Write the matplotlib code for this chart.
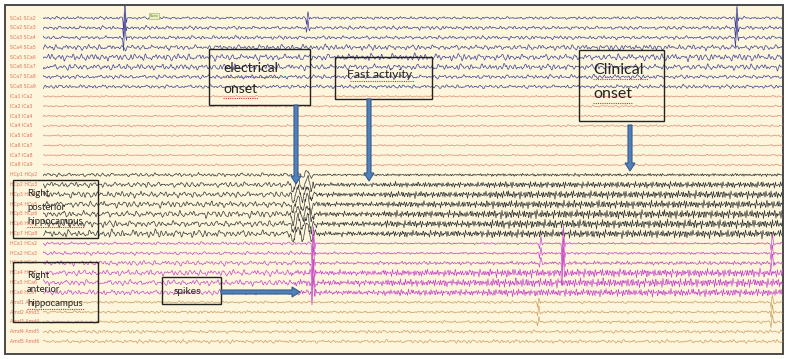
import numpy as np
import matplotlib.pyplot as plt
from matplotlib.patches import Rectangle, FancyArrow


FS = 74
DURATION = 20.0

GROUP_NAMES = ['SCa', 'ICa', 'HCp', 'HCa', 'Amd']
GROUP_SIZES = [8, 8, 7, 6, 5]
GROUP_COLORS = ['#3d4097', '#df9078', '#383838', '#c64ac8', '#cc9f62']

# segments: background | electrical onset | early fast | fast | late fast
SEGMENT_EDGES = [0.0, 6.7, 7.4, 9.2, 12.0, 20.0]
SLOW_AMP = [
    [0.22, 0.22, 0.22, 0.22, 0.22],
    [0.10, 0.10, 0.10, 0.10, 0.10],
    [0.30, 0.30, 0.11, 0.11, 0.11],
    [0.24, 0.24, 0.13, 0.13, 0.13],
    [0.13, 0.13, 0.13, 0.13, 0.13],
]
FAST_AMP = [0.02, 0.18, 0.20, 0.30, 0.38]

SLOW_GAIN = [0.6, 0.8, 0.8, 1.2, 1.5, 1.3, 0.9, 0.8,
             0.8, 1.0, 0.9, 1.0, 0.8, 0.9, 0.8, 0.9,
             0.6, 0.9, 1.0, 1.0, 1.1, 1.1, 1.2,
             0.6, 0.7, 1.0, 1.2, 1.2, 1.1,
             0.9, 1.0, 1.0, 1.2, 1.3]
FAST_GAIN = [0, 0, 0, 0, 0, 0, 0, 0,
             0, 0, 0, 0, 0, 0, 0, 0,
             0.3, 0.8, 1.0, 1.0, 1.1, 1.1, 1.0,
             0.1, 0.15, 0.3, 1.0, 1.1, 0.9,
             0, 0, 0, 0, 0]

# hand-drawn wave shapes
SLOW_WAVE = [0.0, 0.35, 0.7, 0.85, 0.6, 0.2, -0.25, -0.6, -0.8, -0.55,
             -0.1, 0.3, 0.5, 0.35, 0.05, -0.3, -0.5, -0.35, 0.0, 0.45,
             0.8, 0.65, 0.25, -0.2, -0.65, -0.9, -0.7, -0.3, 0.0]
SLOW_WAVE2 = [0.1, 0.3, 0.6, 0.9, 1.0, 0.8, 0.4, 0.0, -0.2, -0.1, 0.2,
              0.3, 0.1, -0.3, -0.7, -0.9, -1.0, -0.8, -0.5, -0.3, -0.4,
              -0.6, -0.5, -0.2, 0.2, 0.5, 0.6, 0.4, 0.1, -0.1, -0.2, 0.0,
              0.3, 0.5, 0.4, 0.0, -0.4, -0.6, -0.5, -0.3, -0.1, 0.0, 0.05]
MID_WAVE = [0.0, 0.6, 0.9, 0.4, -0.3, -0.8, -0.6, 0.1, 0.5, 0.2, -0.3]
FAST_WAVE = [0.0, 0.9, 0.2, -0.8, -0.4]
FAST_WAVE2 = [0.3, 1.0, -0.2, -0.9, 0.4, 0.7, -0.6]
HF_WAVE = [0.5, -0.6, 0.1]

ONSET_TIME = 6.68
ONSET_WAVE = [0, 0.2, 0.8, 1.0, 0.6, 0.1, -0.3, -0.7, -0.9, -0.6, -0.1, 0.4,
              0.7, 0.5, 0.1, -0.4, -0.8, -1.1, -0.9, -0.3, 0.3, 0.9, 0.5, 0]
ONSET_GAIN = [0.3, 0.7, 0.9, 0.9, 0.8, 0.9, 0.9]

SPIKE_WAVE = [0, 0.4, 1.0, 0.2, -0.9, -1.3, -0.6, 0.1, 0.3, 0]
SPIKE_TIMES = [2.16, 7.10, 18.70, 7.25, 13.40, 14.00, 19.65, 13.35, 19.65]
SPIKE_FIRST = [0, 0, 0, 23, 23, 23, 23, 29, 29]
SPIKE_LAST = [3, 2, 3, 29, 26, 27, 26, 32, 32]
SPIKE_AMPS = [1.2, 0.6, 1.0, 1.3, 0.5, 1.3, 0.7, 0.45, 0.55]


def tiled(wave, n, shift):
    w = np.array(wave, dtype=float)
    reps = n // len(w) + 2
    return np.roll(np.tile(w, reps), shift)[:n]


def build_traces():
    n = int(FS * DURATION)
    t = np.arange(n) / FS
    seg = np.searchsorted(SEGMENT_EDGES, t, side='right') - 1
    traces = []
    ch = 0
    for g, size in enumerate(GROUP_SIZES):
        for k in range(size):
            slow = np.array(SLOW_AMP[g])[seg] * SLOW_GAIN[ch]
            fast = np.array(FAST_AMP)[seg] * FAST_GAIN[ch]
            y = 0.6 * slow * tiled(SLOW_WAVE, n, 5 * ch + 3)
            y += 0.6 * slow * tiled(SLOW_WAVE2, n, 7 * ch + 11)
            y += 0.35 * slow * tiled(MID_WAVE, n, 3 * ch)
            y += fast * (0.6 * tiled(FAST_WAVE, n, ch) + 0.5 * tiled(FAST_WAVE2, n, 2 * ch))
            y += 0.04 * tiled(HF_WAVE, n, ch)
            if g == 2:
                onset = np.repeat(ONSET_WAVE, 2) * ONSET_GAIN[k]
                i0 = int(ONSET_TIME * FS)
                y[i0:i0 + len(onset)] += onset
            traces.append(y)
            ch += 1
    for s, t0 in enumerate(SPIKE_TIMES):
        i0 = int(t0 * FS)
        for row in range(SPIKE_FIRST[s], SPIKE_LAST[s]):
            traces[row][i0:i0 + len(SPIKE_WAVE)] += SPIKE_AMPS[s] * np.array(SPIKE_WAVE)
    return t, traces


def boxed_text(ax, x0, y0, x1, y1, lines, ys, x_text, size, underline=()):
    ax.add_patch(Rectangle((x0, y0), x1 - x0, y1 - y0, fill=False,
                           ec='#222222', lw=1.0, zorder=5))
    for line, yy in zip(lines, ys):
        ax.text(x_text, yy, line, fontsize=size, family='Lato', color='#222222',
                va='center', ha='left', zorder=6)
    for ux0, ux1, uy in underline:
        ax.plot([ux0, ux1], [uy, uy], color='#e03030', lw=0.8,
                ls=(0, (1, 1)), zorder=6)


def arrow(ax, x, y, dx, dy):
    ax.add_patch(FancyArrow(x, y, dx, dy, width=4, head_width=10,
                            head_length=8, length_includes_head=True,
                            fc='#4f81bd', ec='#385d8a', lw=0.8, zorder=6))


def main():
    t, traces = build_traces()

    fig = plt.figure(figsize=(7.88, 3.59), dpi=100)
    bg = fig.add_axes([0, 0, 1, 1])
    bg.set_xlim(0, 788)
    bg.set_ylim(359, 0)
    bg.axis('off')
    bg.add_patch(Rectangle((6, 6), 777, 348, fc='#fdf6dc', ec='none'))
    bg.add_patch(Rectangle((5, 5), 778, 349, fill=False, ec='#4a4a4a', lw=1.4))

    ax = fig.add_axes([43 / 788, 6 / 359, 740 / 788, 347 / 359])
    ax.set_xlim(0, DURATION)
    ax.set_ylim(34.18, -1.224)
    ax.patch.set_alpha(0)
    ax.axis('off')

    ch = 0
    for g, size in enumerate(GROUP_SIZES):
        for k in range(size):
            ax.plot(t, traces[ch] + ch, color=GROUP_COLORS[g], lw=0.5)
            name = GROUP_NAMES[g]
            bg.text(10, 18 + 9.8 * ch, f'{name}{k + 1} {name}{k + 2}',
                    fontsize=3.4, color='#e2735a', va='center', ha='left')
            ch += 1

    ov = fig.add_axes([0, 0, 1, 1])
    ov.set_xlim(0, 788)
    ov.set_ylim(359, 0)
    ov.patch.set_alpha(0)
    ov.axis('off')

    ov.text(154, 16, '5sec', fontsize=2.8, color='#557733', ha='center',
            va='center', bbox=dict(fc='#e8f0c0', ec='#99aa66', lw=0.4, pad=0.6))

    boxed_text(ov, 209, 49, 310, 105, ['electrical', 'onset'], [68, 89], 223, 10,
               [(223, 281, 77), (223, 258, 98)])
    boxed_text(ov, 335, 57, 432, 99, ['Fast activity'], [74], 347, 8.8,
               [(350, 414, 81)])
    boxed_text(ov, 579, 50, 664, 121, ['Clinical', 'onset'], [70, 94], 593, 11.5,
               [(593, 648, 79), (593, 632, 103)])
    boxed_text(ov, 13, 180, 98, 238, ['Right', 'posterior', 'hippocampus'],
               [194, 208, 221], 27, 6.9, [(27, 84, 227)])
    boxed_text(ov, 13, 262, 98, 322, ['Right', 'anterior', 'hippocampus'],
               [276, 290, 303], 27, 6.9, [(27, 84, 309)])
    boxed_text(ov, 162, 277, 221, 304, ['spikes'], [291], 174, 7.3)

    arrow(ov, 296, 105, 0, 79)
    arrow(ov, 369, 99, 0, 82)
    arrow(ov, 630, 125, 0, 46)
    arrow(ov, 221, 292, 79, 0)

    fig.savefig('out.png', dpi=100)


if __name__ == '__main__':
    main()
